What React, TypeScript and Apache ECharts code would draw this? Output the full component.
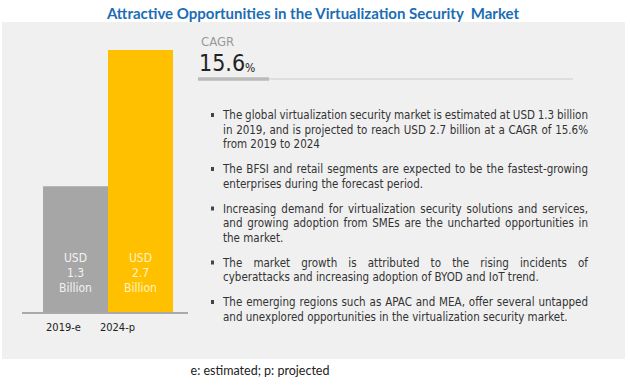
import React, { useEffect, useRef } from "react";
import * as echarts from "echarts";

const categories = ["2019-e", "2024-p"];
const values = [1.3, 2.7];
const barColors = ["#a6a6a6", "#ffc000"];
const barLabelColors = ["#f2f2f2", "#fff2c4"];
const titleText = "Attractive Opportunities in the Virtualization Security  Market";
const cagrLabel = "CAGR";
const cagrValue = "15.6";
const footnote = "e: estimated; p: projected";
const bulletParagraphs = [
  [
    "The global virtualization security market is estimated at USD 1.3   billion",
    "in 2019, and is projected to reach USD 2.7 billion at a CAGR of 15.6%",
    "from 2019 to 2024",
  ],
  [
    "The BFSI and retail segments are expected to be the fastest-growing",
    "enterprises during the forecast period.",
  ],
  [
    "Increasing demand for virtualization security solutions and services,",
    "and growing adoption from SMEs are the uncharted opportunities in",
    "the market.",
  ],
  [
    "The market growth is attributed to the rising incidents of",
    "cyberattacks and increasing adoption of BYOD and IoT trend.",
  ],
  [
    "The emerging regions such as APAC and MEA, offer several untapped",
    "and unexplored opportunities in the virtualization security market.",
  ],
];

const NARROW = '"DejaVu Sans Condensed", "Liberation Sans Narrow", sans-serif';

export default function App() {
  const ref = useRef<HTMLDivElement>(null);

  useEffect(() => {
    if (!ref.current) return;
    const chart = echarts.init(ref.current, null, { renderer: "svg" });

    const bodyFont = `11.5px ${NARROW}`;
    const ctx = document.createElement("canvas").getContext("2d")!;
    ctx.font = bodyFont;
    const textLeft = 223;
    const textRight = 588;

    const graphics: any[] = [];
    graphics.push({
      type: "rect",
      z: -10,
      shape: { x: 2, y: 22, width: 623, height: 337 },
      style: { fill: "#f0f0f0" },
      silent: true,
    });
    graphics.push({
      type: "text",
      x: 313,
      y: 13,
      style: {
        text: titleText,
        fill: "#1b6db5",
        font: 'bold 15px Lato, "Open Sans", sans-serif',
        align: "center",
        verticalAlign: "middle",
      },
    });
    graphics.push({
      type: "line",
      shape: { x1: 22, y1: 313, x2: 188, y2: 313 },
      style: { stroke: "#aaaaaa", lineWidth: 2 },
      z: 10,
    });
    graphics.push({
      type: "text",
      x: 201,
      y: 41,
      style: {
        text: cagrLabel,
        fill: "#999999",
        font: `13px ${NARROW}`,
        verticalAlign: "middle",
      },
    });
    graphics.push({
      type: "text",
      x: 199,
      y: 63,
      style: {
        text: `{v|${cagrValue}}{p|%}`,
        verticalAlign: "middle",
        rich: {
          v: { fontSize: 23, fontFamily: NARROW, fill: "#222222", color: "#222222", verticalAlign: "bottom" },
          p: { fontSize: 12, fontFamily: NARROW, fill: "#222222", color: "#222222", verticalAlign: "bottom", padding: [0, 0, 1, 0] },
        },
      },
    });
    graphics.push({
      type: "line",
      shape: { x1: 269, y1: 79, x2: 573, y2: 79 },
      style: { stroke: "#cccccc", lineWidth: 1 },
    });
    graphics.push({
      type: "line",
      shape: { x1: 198, y1: 79, x2: 269, y2: 79 },
      style: { stroke: "#bbbbbb", lineWidth: 3.5 },
    });
    let y = 115;
    const lh = 14.5;
    const gap = 10.5;
    bulletParagraphs.forEach((lines) => {
      graphics.push({
        type: "rect",
        shape: { x: 211, y: y - 2, width: 3, height: 4 },
        style: { fill: "#444444" },
      });
      lines.forEach((line, i) => {
        const ly = y + i * lh;
        const isLast = i === lines.length - 1;
        if (isLast) {
          graphics.push({
            type: "text",
            x: textLeft,
            y: ly,
            style: { text: line, fill: "#333333", font: bodyFont, verticalAlign: "middle" },
          });
        } else {
          const words = line.split(/\s+/);
          const widths = words.map((w) => ctx.measureText(w).width);
          const total = widths.reduce((a, b) => a + b, 0);
          const space = (textRight - textLeft - total) / (words.length - 1);
          let x = textLeft;
          words.forEach((w, k) => {
            graphics.push({
              type: "text",
              x,
              y: ly,
              style: { text: w, fill: "#333333", font: bodyFont, verticalAlign: "middle" },
            });
            x += widths[k] + space;
          });
        }
      });
      y += lines.length * lh + gap;
    });
    graphics.push({
      type: "text",
      x: 260,
      y: 370,
      style: {
        text: footnote,
        fill: "#222222",
        font: '12.5px Lato, "Open Sans", sans-serif',
        align: "center",
        verticalAlign: "middle",
      },
    });

    chart.setOption({
      animation: false,
      grid: { left: 43, width: 130, top: 50, bottom: 74 },
      xAxis: {
        type: "category",
        data: categories,
        axisLine: { show: false },
        axisTick: { show: false },
        axisLabel: {
          interval: 0,
          margin: 9,
          formatter: (v: string, i: number) => `{c${i}|${v}}`,
          rich: {
            c0: { fontSize: 11, fontFamily: NARROW, color: "#222222", padding: [0, 24, 0, 0] },
            c1: { fontSize: 11, fontFamily: NARROW, color: "#222222", padding: [0, 46, 0, 0] },
          },
        },
      },
      yAxis: {
        type: "value",
        min: 0,
        max: 2.7,
        show: false,
        splitLine: { show: false },
      },
      series: [
        {
          type: "bar",
          barWidth: 65,
          barGap: "0%",
          data: values.map((v, i) => ({
            value: v,
            itemStyle: { color: barColors[i] },
            label: { color: barLabelColors[i] },
          })),
          label: {
            show: true,
            position: "insideBottom",
            distance: 18,
            formatter: (p: any) => `USD\n${p.value}\nBillion`,
            fontSize: 12,
            lineHeight: 15,
            fontFamily: NARROW,
            align: "center",
          },
        },
      ],
      graphic: graphics,
    });

    return () => chart.dispose();
  }, []);

  return (
    <div
      ref={ref}
      style={{ position: "absolute", left: 0, top: 0, width: 630, height: 387, background: "#ffffff" }}
    />
  );
}
